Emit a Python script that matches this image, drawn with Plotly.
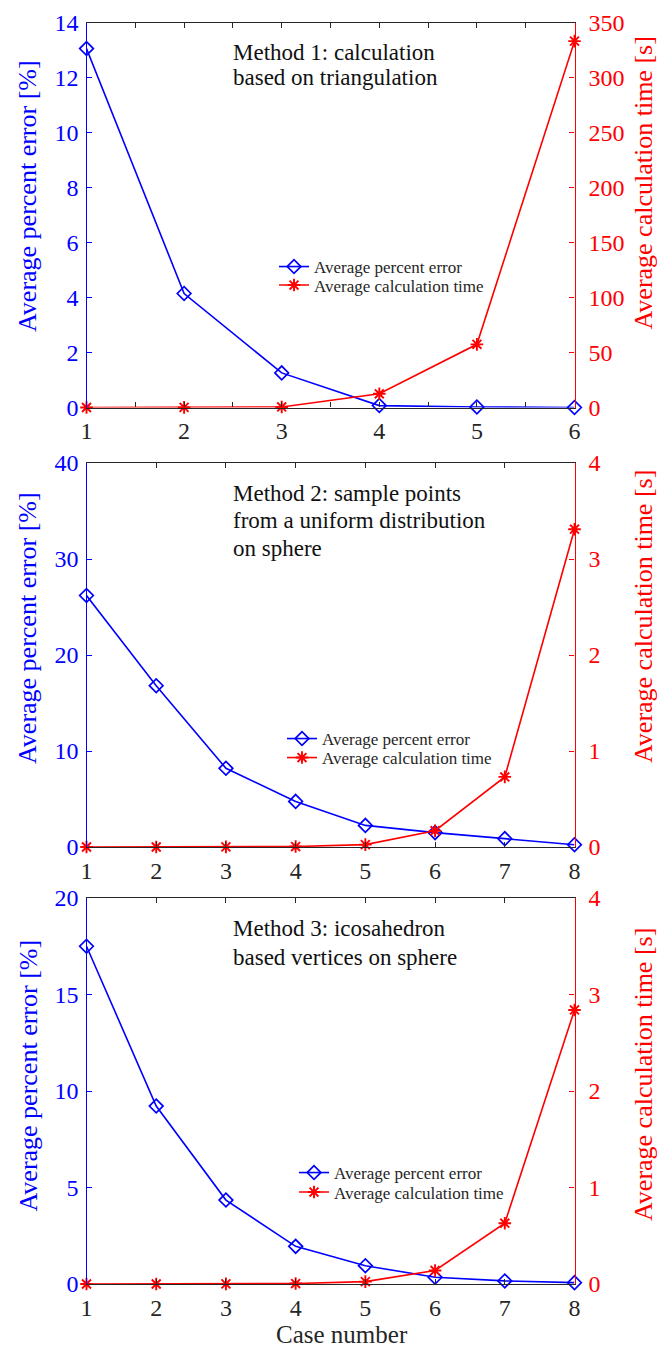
import plotly.graph_objects as go

# ---------------- data ----------------
cases_m1 = [1, 2, 3, 4, 5, 6]
error_m1 = [13.07, 4.15, 1.26, 0.07, 0.02, 0.0]
time_m1 = [0.0, 0.1, 0.5, 12.5, 57.5, 333.5]

cases_m2 = [1, 2, 3, 4, 5, 6, 7, 8]
error_m2 = [26.2, 16.8, 8.2, 4.75, 2.25, 1.5, 0.87, 0.24]
time_m2 = [0.0, 0.0, 0.001, 0.005, 0.025, 0.17, 0.73, 3.31]

cases_m3 = [1, 2, 3, 4, 5, 6, 7, 8]
error_m3 = [17.5, 9.22, 4.35, 1.95, 0.95, 0.35, 0.16, 0.07]
time_m3 = [0.0, 0.0, 0.001, 0.005, 0.025, 0.14, 0.63, 2.84]

method_texts = [
    ["Method 1: calculation", "based on triangulation"],
    ["Method 2: sample points", "from a uniform distribution", "on sphere"],
    ["Method 3: icosahedron", "based vertices on sphere"],
]
left_ticks = [list(range(0, 15, 2)), list(range(0, 41, 10)), list(range(0, 21, 5))]
right_ticks = [list(range(0, 351, 50)), [0, 1, 2, 3, 4], [0, 1, 2, 3, 4]]
left_title = "Average percent error [%]"
right_title = "Average calculation time [s]"
x_title = "Case number"
name_err = "Average percent error"
name_time = "Average calculation time"

# ---------------- layout helpers ----------------
W, H = 657, 1351
FONT = "Liberation Serif, Times New Roman, serif"
BLUE = "#0000FF"
RED = "#FF0000"
GRAY = "#262626"

def px_x(p):
    return p / W

def px_y(p):
    return 1 - p / H

xl, xr = 86.5, 574.5
panels_px = [(23, 407.5), (463, 847), (898, 1284)]
text_rows = [[52, 78], [493, 521, 548], [929, 957]]
legend_rows = [[267, 285.5], [739, 758], [1173, 1192.5]]
legend_x = [274, 282, 294]
lt_centers = [196.5, 628.5, 1076]
rt_centers = [183.5, 617, 1075]

cases = [cases_m1, cases_m2, cases_m3]
errors = [error_m1, error_m2, error_m3]
times = [time_m1, time_m2, time_m3]

fig = go.Figure()
layout = dict(
    width=W, height=H,
    margin=dict(l=0, r=0, t=0, b=0, autoexpand=False),
    paper_bgcolor="white", plot_bgcolor="white",
    font=dict(family=FONT, color=GRAY),
    showlegend=True,
    annotations=[],
)

for i in range(3):
    xn = "x" if i == 0 else f"x{i+1}"
    yl = "y" if i == 0 else f"y{2*i+1}"
    yr = f"y{2*i+2}"
    xk = "xaxis" if i == 0 else f"xaxis{i+1}"
    ylk = "yaxis" if i == 0 else f"yaxis{2*i+1}"
    yrk = f"yaxis{2*i+2}"
    top, bot = panels_px[i]
    ydom = [px_y(bot), px_y(top)]
    lg1 = "legend" if i == 0 else f"legend{2*i+1}"
    lg2 = f"legend{2*i+2}"

    fig.add_trace(go.Scatter(
        x=cases[i], y=errors[i], xaxis=xn, yaxis=yl, name=name_err,
        mode="lines+markers", cliponaxis=False, legend=lg1, showlegend=True,
        line=dict(color=BLUE, width=1.6),
        marker=dict(symbol="diamond-open", size=10.5, color=BLUE,
                    line=dict(color=BLUE, width=1.7)),
    ))
    fig.add_trace(go.Scatter(
        x=cases[i], y=times[i], xaxis=xn, yaxis=yr, name=name_time,
        mode="lines+markers", cliponaxis=False, legend=lg2, showlegend=True,
        line=dict(color=RED, width=1.6),
        marker=dict(symbol="asterisk-open", size=10.5, color=RED,
                    line=dict(color=RED, width=1.9)),
    ))

    nmax = len(cases[i])
    layout[xk] = dict(
        domain=[px_x(xl), px_x(xr)], anchor=yl, range=[1, nmax],
        tickmode="array", tickvals=list(range(1, nmax + 1)),
        ticks="inside", ticklen=5, tickcolor=GRAY, tickwidth=1,
        showline=True, linecolor=GRAY, linewidth=1.2, mirror="ticks",
        showgrid=False, zeroline=False, automargin=False,
        tickfont=dict(family=FONT, size=24, color=GRAY),
        ticklabelstandoff=2,
    )
    if i == 0:
        layout[xk]["minor"] = dict(dtick=0.5, ticks="inside", ticklen=5,
                                   tickcolor=GRAY, showgrid=False)
    lt = left_ticks[i]
    rt = right_ticks[i]
    layout[ylk] = dict(
        domain=ydom, anchor=xn, range=[lt[0], lt[-1]],
        tickmode="array", tickvals=lt,
        ticks="inside", ticklen=5, tickcolor=BLUE,
        showline=True, linecolor=BLUE, linewidth=1.2,
        showgrid=False, zeroline=False, automargin=False,
        tickfont=dict(family=FONT, size=24, color=BLUE),
        ticklabelstandoff=2,
    )
    layout[yrk] = dict(
        domain=ydom, anchor=xn, overlaying=yl, side="right",
        range=[rt[0], rt[-1]], tickmode="array", tickvals=rt,
        ticks="inside", ticklen=5, tickcolor=RED,
        showline=True, linecolor=RED, linewidth=1.2,
        showgrid=False, zeroline=False, automargin=False,
        tickfont=dict(family=FONT, size=24, color=RED),
        ticklabelstandoff=8,
    )
    # legends (one per row, for exact row spacing)
    for lg, yrow in zip([lg1, lg2], legend_rows[i]):
        layout[lg] = dict(
            x=px_x(legend_x[i]), xanchor="left", xref="paper",
            y=px_y(yrow), yanchor="middle", yref="paper",
            bgcolor="rgba(0,0,0,0)", borderwidth=0, visible=True,
            font=dict(family=FONT, size=17, color=GRAY),
        )
    # method text
    for line, yrow in zip(method_texts[i], text_rows[i]):
        layout["annotations"].append(dict(
            text=line, xref="paper", yref="paper",
            x=px_x(231), y=px_y(yrow), xanchor="left", yanchor="middle",
            showarrow=False, font=dict(family=FONT, size=23, color="#111111"),
        ))
    # axis titles
    layout["annotations"].append(dict(
        text=left_title, xref="paper", yref="paper",
        x=px_x(27.5), y=px_y(lt_centers[i]), xanchor="center", yanchor="middle",
        textangle=-90, showarrow=False,
        font=dict(family=FONT, size=26, color=BLUE),
    ))
    layout["annotations"].append(dict(
        text=right_title, xref="paper", yref="paper",
        x=px_x(643), y=px_y(rt_centers[i]), xanchor="center", yanchor="middle",
        textangle=-90, showarrow=False,
        font=dict(family=FONT, size=26, color=RED),
    ))

layout["annotations"].append(dict(
    text=x_title, xref="paper", yref="paper",
    x=px_x(342), y=px_y(1334), xanchor="center", yanchor="middle",
    showarrow=False, font=dict(family=FONT, size=25, color=GRAY),
))

fig.update_layout(**layout)
fig.write_html(
    "out.html",
    config={"displayModeBar": False},
    post_script="document.body.style.margin='0';document.body.style.padding='0';"
                "document.body.style.overflow='hidden';",
)
